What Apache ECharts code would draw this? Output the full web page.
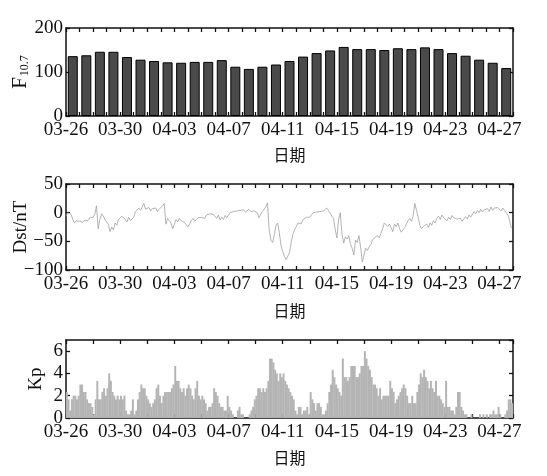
<!DOCTYPE html>
<html>
<head>
<meta charset="utf-8">
<script src="https://cdn.jsdelivr.net/npm/echarts/dist/echarts.min.js"></script>
<style>
  html, body { margin: 0; padding: 0; background: #fff; }
  #main { width: 547px; height: 476px; }
</style>
</head>
<body>
<div id="main"></div>
<script>
// 日期（每日一个）
var days = ['03-26', '03-27', '03-28', '03-29', '03-30', '03-31', '04-01', '04-02', '04-03', '04-04', '04-05',
  '04-06', '04-07', '04-08', '04-09', '04-10', '04-11', '04-12', '04-13', '04-14', '04-15', '04-16',
  '04-17', '04-18', '04-19', '04-20', '04-21', '04-22', '04-23', '04-24', '04-25', '04-26', '04-27']

// F10.7 日值
var f107 = [136, 138, 146, 146, 134, 128, 125, 122, 121, 123, 123, 127, 112, 107, 112, 117, 125,
  135, 143, 149, 157, 152, 152, 150, 154, 152, 156, 152, 143, 137, 128, 121, 109]

// Dst (nT)，每 3 小时一个值
var dst = [
  -6, 0, 2, -3, -12, -18, -14, -16,
  -15, -12, -17, -13, -10, -14, -9, -6,
  -8, -3, 12, -28, -12, -2, -6, -12,
  -14, -20, -33, -25, -30, -18, -22, -12,
  -10, -6, -4, -12, -16, -8, -14, -17,
  -8, 2, 5, 8, 4, 10, 16, 6,
  6, 9, 3, 7, 4, 8, 2, 6,
  6, 12, 16, -20, -10, -14, -18, -28,
  -20, -12, -16, -10, -14, -12, -17, -15,
  -25, -28, -14, -10, -15, -12, -9, -11,
  -8, -6, -10, -4, -7, -2, 0, -3,
  -6, -10, -4, -13, -8, -12, -5, -9,
  -4, 0, -3, 2, -1, 3, 0, 4,
  2, 5, 1, 4, 6, 2, 5, 3,
  3, 0, -9, -3, 2, 6, 10, 17,
  -30, -48, -52, -40, -22, -18, -35, -58,
  -68, -76, -82, -84, -70, -52, -38, -30,
  -24, -18, -16, -19, -12, -14, -8, -10,
  -8, -4, 0, -3, 1, -2, 2, 4,
  3, 6, 8, 4, 2, -6, -10, -30,
  -44, -12, 0, -38, -53, -42, -46, -40,
  -55, -62, -74, -48, -52, -40, -60, -86,
  -86, -62, -66, -60, -56, -48, -44, -42,
  -40, -44, -36, -28, -18, -15, -24, -20,
  -26, -33, -20, -24, -18, -28, -34, -30,
  -26, -20, -14, -10, -15, -6, 16, 4,
  -8, -22, -28, -24, -27, -20, -26, -18,
  -22, -14, -18, -10, -6, -12, -4, -9,
  -10, -14, -8, -12, -5, -9, -6, -11,
  -13, -10, -15, -12, -7, -11, -4, -8,
  -3, 2, -2, 4, 0, 6, 1, 5,
  3, 7, 2, 10, 4, 8, 5, 9,
  6, 3, 8, 4, 2, -4, -14, -27
]

// Kp，每 3 小时一个值
var kp = [
  2.33, 1.67, 0.67, 1.67, 2, 2, 1.67, 2,
  3, 3, 2.33, 2.33, 1.67, 1.33, 1.33, 1,
  0.33, 1.67, 3.33, 1.67, 1.67, 2.33, 2.67, 2,
  2.67, 4, 3.33, 2.33, 2, 1.67, 2, 1.67,
  2, 1.67, 2, 0.67, 0.33, 0.33, 0.67, 1.67,
  0.33, 0.67, 1.67, 2.33, 3, 2.67, 2.67, 2,
  1.67, 1.33, 1, 1.33, 1.67, 2.67, 3, 2,
  1.33, 2, 2.33, 2.33, 2.33, 2.33, 2.67, 3,
  4.67, 3.33, 3.33, 2.67, 2.33, 2.67, 2, 2.67,
  3, 2.67, 2, 1.67, 2.67, 3.33, 2, 1.67,
  2, 1.67, 1.33, 0.67, 1, 1, 1.33, 2.67,
  2.33, 2, 1.33, 1, 1, 0.67, 0.67, 2,
  1, 0.67, 0.33, 0, 0, 0.67, 1, 0.33,
  0.33, 0, 0, 0, 0.33, 0.67, 1, 1.67,
  2, 2.67, 2.67, 2.33, 2.67, 2.33, 2.67, 3.33,
  5.33, 5.33, 5, 4.33, 4, 3.33, 4, 3.67,
  4, 3.33, 3, 2.67, 2.33, 2, 1.67, 0.67,
  0.33, 1, 1, 0.33, 0.67, 0.67, 1, 0.33,
  2.33, 1.67, 1.33, 0.67, 1.33, 1.33, 1, 0.33,
  0.33, 0.67, 1.33, 2.33, 3, 4.33, 3.67, 3,
  2.67, 2.33, 2, 5.33, 3.67, 3.67, 3.33, 3.67,
  4.67, 4.67, 4.67, 3.67, 3.67, 4, 4.67, 4.67,
  6, 5.33, 4.67, 4.33, 3.67, 3, 3, 2.67,
  2, 2.67, 1.67, 2, 2, 2, 2, 3.33,
  2.67, 2.33, 1.33, 1.67, 2, 2.33, 2.67, 3,
  2.67, 2, 1.33, 1.33, 2, 1.33, 1.33, 2.33,
  3, 4, 3.67, 4.33, 3.67, 3.33, 2.67, 3.33,
  2.67, 2.33, 3.33, 2, 2, 1.67, 1.33, 1,
  3.33, 1, 1, 0.67, 0.67, 0.33, 1, 2.33,
  2.33, 1, 0.67, 0.33, 0.33, 0, 0, 0.33,
  0, 0, 0, 0, 0.33, 0, 0.33, 0,
  0.33, 0, 0.33, 0.33, 0.67, 0.33, 0.33, 1,
  0.33, 0, 0, 0.33, 0.67, 1.67, 1.67, 1.33
]

var serif = "'Liberation Serif', 'Times New Roman', serif"
var cjk = "'Noto Sans CJK SC', sans-serif"
var black = '#111'

// 三个面板的位置（不让标签挤动绘图区）
var grids = [
  { left: 66, right: 34, top: 28, height: 88, containLabel: false, outerBoundsMode: 'none' },
  { left: 66, right: 34, top: 184, height: 86, containLabel: false, outerBoundsMode: 'none' },
  { left: 66, right: 34, top: 340, height: 78, containLabel: false, outerBoundsMode: 'none' }
]

// 底部带标签的时间轴 + 顶部镜像轴
function xAxes (gridIndex, tickStep, nameGap) {
  var common = {
    type: 'value',
    gridIndex: gridIndex,
    min: 0,
    max: days.length,
    interval: tickStep,
    axisLine: { onZero: false, lineStyle: { color: black, width: 1.5 } },
    axisTick: { inside: true, length: 4, lineStyle: { color: black, width: 1.3 } },
    splitLine: { show: false }
  }
  var bottom = Object.assign({}, common, {
    position: 'bottom',
    axisLabel: {
      margin: 5,
      color: black,
      fontFamily: serif,
      fontSize: 19,
      formatter: function (v) {
        return (v % 4 === 0 && v < days.length) ? days[v] : ''
      }
    },
    name: '日期',
    nameLocation: 'middle',
    nameGap: nameGap,
    nameMoveOverlap: false,
    nameTextStyle: { color: black, fontFamily: cjk, fontSize: 16 }
  })
  var top = Object.assign({}, common, {
    position: 'top',
    axisLabel: { show: false }
  })
  return [bottom, top]
}

// 左侧带标签的 y 轴 + 右侧镜像轴
function yAxes (gridIndex, min, max, interval, name, nameGap, nameRich) {
  var common = {
    type: 'value',
    gridIndex: gridIndex,
    min: min,
    max: max,
    interval: interval,
    axisLine: { show: true, onZero: false, lineStyle: { color: black, width: 1.5 } },
    axisTick: { show: true, inside: true, length: 4, lineStyle: { color: black, width: 1.3 } },
    splitLine: { show: false }
  }
  var left = Object.assign({}, common, {
    position: 'left',
    axisLabel: {
      margin: 3,
      color: black,
      fontFamily: serif,
      fontSize: 19,
      showMaxLabel: max % interval === 0,
      formatter: function (v) { return String(v).replace('-', '\u2212') }
    },
    name: name,
    nameLocation: 'middle',
    nameGap: nameGap,
    nameMoveOverlap: false,
    nameTextStyle: { color: black, fontFamily: serif, fontSize: 19, rich: nameRich }
  })
  var right = Object.assign({}, common, {
    position: 'right',
    axisLabel: { show: false }
  })
  return [left, right]
}

var chart = echarts.init(document.getElementById('main'), null, { renderer: 'canvas' })

chart.setOption({
  backgroundColor: '#fff',
  animation: false,
  grid: grids,
  xAxis: [].concat(xAxes(0, 1, 31), xAxes(1, 1, 33), xAxes(2, 2, 32)),
  yAxis: [].concat(
    yAxes(0, 0, 200, 100, '{f|F}{s|10.7}', 35, {
      f: { fontFamily: serif, fontSize: 21, color: black },
      s: { fontFamily: serif, fontSize: 12, color: black, padding: [10, 0, 0, 1] }
    }),
    yAxes(1, -100, 50, 50, 'Dst/nT', 35),
    yAxes(2, 0, 7, 2, 'Kp', 20)
  ),
  series: [
    {
      name: 'F10.7',
      type: 'bar',
      xAxisIndex: 0,
      yAxisIndex: 0,
      barWidth: 10,
      itemStyle: { color: '#4a4a4a', borderColor: '#000', borderWidth: 1 },
      data: f107.map(function (v, i) { return [i + 0.5, v] })
    },
    {
      name: 'Dst',
      type: 'line',
      xAxisIndex: 2,
      yAxisIndex: 2,
      showSymbol: false,
      lineStyle: { color: '#a0a0a0', width: 0.8 },
      data: dst.map(function (v, k) { return [k / 8, v] })
    },
    {
      name: 'Kp',
      type: 'bar',
      xAxisIndex: 4,
      yAxisIndex: 4,
      barWidth: 2,
      itemStyle: { color: '#b4b4b4' },
      data: kp.map(function (v, k) { return [k / 8 + 1 / 16, v] })
    }
  ]
})
</script>
</body>
</html>
